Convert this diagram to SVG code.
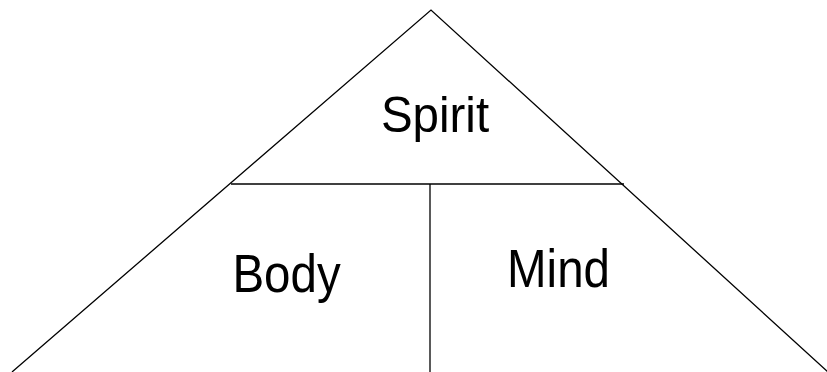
<svg xmlns="http://www.w3.org/2000/svg" width="827" height="372" viewBox="0 0 827 372">
<style>
.ln{stroke:#000;stroke-width:1.3;fill:none}
.t{font-family:"Liberation Sans",Arial,sans-serif;font-size:47.5px;fill:#000;text-anchor:middle}
</style>
<rect width="827" height="372" fill="#fff"/>
<g id="connectors">
<path class="ln" d="M12,372 L431,10 L828,372"/>
<path class="ln" d="M231,184 L624,184"/>
<path class="ln" d="M430,184 L430,372"/>
</g>
<g id="spirit"><text class="t" transform="translate(435,132) scale(1,1.04)">Spirit</text></g>
<g id="body"><text class="t" transform="translate(286.5,292) scale(1,1.14)">Body</text></g>
<g id="mind"><text class="t" transform="translate(558.5,287) scale(1,1.14)">Mind</text></g>
</svg>
